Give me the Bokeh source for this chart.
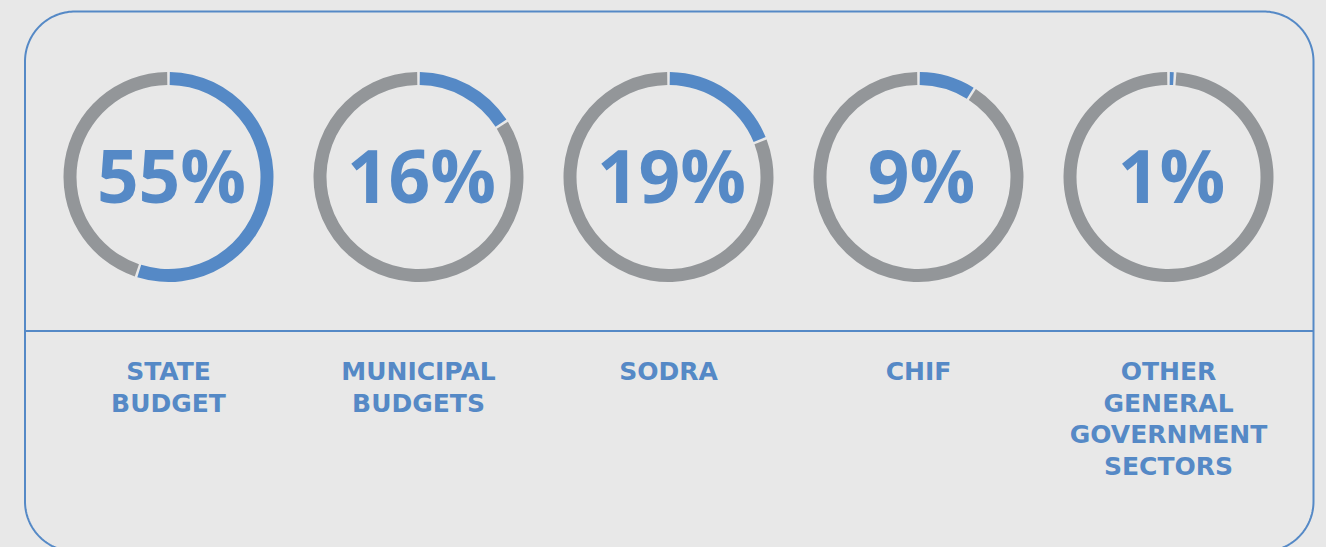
import numpy as np
from bokeh.plotting import figure
from bokeh.models import Range1d, ColumnDataSource
from bokeh.core.properties import value
from bokeh.embed import file_html
from bokeh.resources import INLINE

# ---- data ----
categories = ["STATE\nBUDGET", "MUNICIPAL\nBUDGETS", "SODRA", "CHIF",
              "OTHER\nGENERAL\nGOVERNMENT\nSECTORS"]
shares = [55, 16, 19, 9, 1]
pct_labels = ["55%", "16%", "19%", "9%", "1%"]

BG = "#e8e8e8"
BLUE = "#5589c6"
GRAY = "#939699"

W, H = 1326, 547
p = figure(width=W, height=H, output_backend="svg", toolbar_location=None,
           x_range=Range1d(0, W), y_range=Range1d(0, H),
           min_border=0, background_fill_color=BG, border_fill_color=BG,
           outline_line_color=None)
p.axis.visible = False
p.grid.visible = False

def Y(py):
    return H - np.asarray(py, dtype=float)

# ---- rounded frame ----
L, R, T, B, rad = 24.5, 1313, 11, 551, 50
xs, ys = [], []
def arc(cx, cy, a0, a1):
    t = np.linspace(a0, a1, 40)
    xs.extend(cx + rad * np.cos(t))
    ys.extend(cy - rad * np.sin(t))
arc(L + rad, T + rad, np.pi, np.pi / 2)
arc(R - rad, T + rad, np.pi / 2, 0)
arc(R - rad, B - rad, 0, -np.pi / 2)
arc(L + rad, B - rad, -np.pi / 2, -np.pi)
xs.append(xs[0]); ys.append(ys[0])
p.line(xs, Y(ys), line_color=BLUE, line_width=2)

# divider
p.line([L, R], Y([330.5, 330.5]), line_color=BLUE, line_width=2)

# ---- donuts ----
n = len(shares)
cx = 168 + 250 * np.arange(n)
cy = np.full(n, 176.5)
r_out, r_in = 105, 92
gap = 2.5 / ((r_out + r_in) / 2)
frac = np.array(shares) / 100.0
top = np.pi / 2
blue_start = top - 2 * np.pi * frac + gap / 2
blue_end = np.full(n, top - gap / 2)
gray_start = np.full(n, top + gap / 2)
gray_end = top + 2 * np.pi * (1 - frac) - gap / 2

src = ColumnDataSource(dict(x=cx + 3, y=Y(cy), bs=blue_start, be=blue_end,
                            gs=gray_start, ge=gray_end, pct=pct_labels,
                            ty=Y(cy + 25 - 28)))
src.data["x"] = cx
src.data["tx"] = cx + 3
p.annular_wedge(x="x", y="y", inner_radius=r_in, outer_radius=r_out,
                start_angle="gs", end_angle="ge", direction="anticlock",
                fill_color=GRAY, line_color=None, source=src)
p.annular_wedge(x="x", y="y", inner_radius=r_in, outer_radius=r_out,
                start_angle="bs", end_angle="be", direction="anticlock",
                fill_color=BLUE, line_color=None, source=src)
p.text(x="tx", y="ty", text="pct", source=src, text_align="center",
       text_baseline="alphabetic", text_font=value("Open Sans"),
       text_font_style="bold", text_font_size="73px", text_color=BLUE)

# ---- labels ----
lx, ly, lt = [], [], []
for i, lab in enumerate(categories):
    for j, line in enumerate(lab.split("\n")):
        lx.append(cx[i]); ly.append(382 - 11 + 31.5 * j); lt.append(line)
p.text(x=lx, y=Y(ly), text=lt, text_align="center", text_baseline="alphabetic",
       text_font=value("DejaVu Sans"), text_font_style="bold",
       text_font_size="25px", text_color=BLUE)

html = file_html(p, INLINE)
html = html.replace("</head>",
                    "<style>html,body{background:%s;margin:0;padding:0;overflow:hidden;}</style></head>" % BG, 1)
open("out.html", "w").write(html)
